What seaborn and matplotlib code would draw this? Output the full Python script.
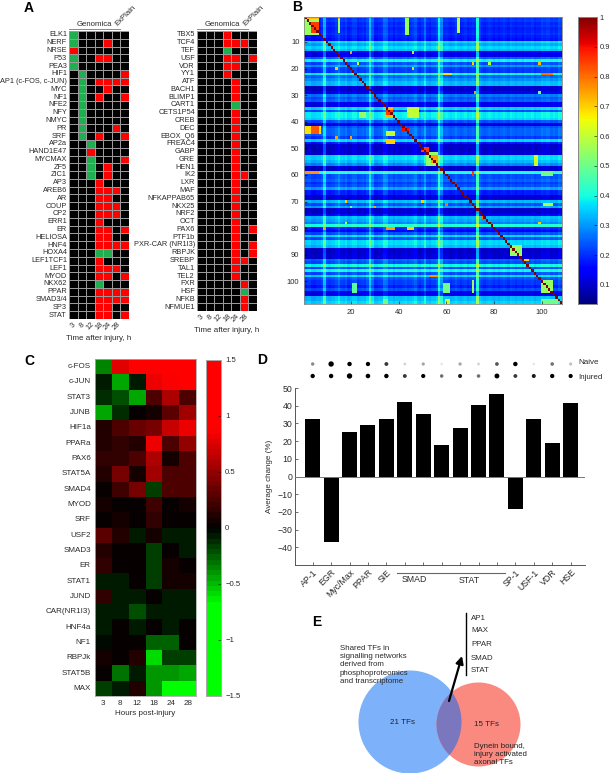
import matplotlib
matplotlib.use('Agg')
import matplotlib.pyplot as plt
from matplotlib.colors import LinearSegmentedColormap, ListedColormap
from matplotlib.patches import Circle, FancyArrowPatch
from matplotlib.transforms import blended_transform_factory
import seaborn as sns
import numpy as np
import pandas as pd

# panel A: '.' no call, 'r' induced, 'g' repressed; columns are the time points + ExPlain
time_labels = ['3', '8', '12', '18', '24', '28', '']
left_tfs = ['ELK1', 'NERF', 'NRSE', 'P53', 'PEA3', 'HIF1', 'AP1 (c-FOS, c-JUN)', 'MYC', 'NF1', 'NFE2',
            'NFY', 'NMYC', 'PR', 'SRF', 'AP2a', 'HAND1E47', 'MYCMAX', 'ZF5', 'ZIC1', 'AP3', 'AREB6', 'AR',
            'COUP', 'CP2', 'ERR1', 'ER', 'HELIOSA', 'HNF4', 'HOXA4', 'LEF1TCF1', 'LEF1', 'MYOD', 'NKX62',
            'PPAR', 'SMAD3/4', 'SP3', 'STAT']
left_calls = ['g......', 'g...r..', 'r......', 'g..rr..', 'g......', '.g....r', '.g.rrrr', '.g..r..',
              '.g.r..r', '.g.....', '.g.....', '.g.....', '.g...r.', '.g.r..r', '..g....', '..r....',
              '..g...r', '..g.r..', '..g.r..', '...r...', '...rrr.', '...rr..', '...rrr.', '...rrr.',
              '...r...', '...rr.r', '...rr..', '...rrrr', '...gg..', '...r...', '...rrr.', '...rr.r',
              '...g...', '...rrrr', '...rrrr', '...rr..', '...rr.r']
right_tfs = ['TBX5', 'TCF4', 'TEF', 'USF', 'VDR', 'YY1', 'ATF', 'BACH1', 'BLIMP1', 'CART1', 'CETS1P54',
             'CREB', 'DEC', 'EBOX_Q6', 'FREAC4', 'GABP', 'GRE', 'HEN1', 'IK2', 'LXR', 'MAF', 'NFKAPPAB65',
             'NKX25', 'NRF2', 'OCT', 'PAX6', 'PTF1b', 'PXR-CAR (NR1I3)', 'RBPJK', 'SREBP', 'TAL1', 'TEL2',
             'FXR', 'HSF', 'NFKB', 'NFMUE1']
right_calls = ['...r...', '...rrr.', '...g...', '...rr.r', '...rr..', '...r...', '....r..', '....r..',
               '....r..', '....g..', '....r..', '....r..', '....r..', '....r..', '....r..', '....r..',
               '....r..', '....r..', '....rr.', '....r..', '....r..', '....r..', '....r..', '....r..',
               '....r..', '....r.r', '....r..', '....r.r', '....r.r', '....rr.', '....r..', '....r..',
               '.....r.', '.....g.', '.....r.', '.....r.']

# panel B: brightness of each row, extra brightness of each column, all estimated by eye
row_levels = [.17, .18, .16, .17, .15, .16, .17, .15, .14, .33, .28, .33, .30, .10, .10, .22, .36, .20,
              .27, .18, .18, .36, .22, .26, .30, .30, .07, .07, .10, .24, .20, .22, .10, .10, .33, .20,
              .35, .35, .33, .20, .09, .20, .22, .22, .22, .18, .33, .15, .07, .07, .07, .08, .33, .33,
              .30, .25, .07, .07, .38, .20, .20, .22, .18, .20, .28, .15, .15, .08, .08, .30, .20, .28,
              .07, .07, .12, .30, .28, .25, .38, .15, .12, .20, .33, .20, .33, .33, .30, .07, .07, .08,
              .08, .22, .20, .36, .20, .36, .20, .33, .20, .18, .18, .15, .20, .10, .10, .30, .30, .33]
col_levels = [.02, .03, .03, .01, .01, .02, .02, .04, .16, .03, .02, .03, .03, .05, .08, .04, .03, .05,
              .02, .03, .05, .05, .02, .03, .04, .03, .06, .17, .08, .02, .02, .03, .04, .09, .08, .03,
              .04, .02, .04, .03, .03, .04, .05, .03, .04, .05, .07, .03, .02, .04, .10, .03, .02, .04,
              .04, .06, .22, .12, .03, .04, .03, .02, .03, .05, .03, .02, .03, .04, .02, .03, .04, .03,
              .24, .05, .03, .02, .03, .04, .03, .02, .03, .02, .03, .04, .03, .02, .04, .03, .02, .03,
              .03, .02, .04, .03, .03, .04, .02, .03, .03, .05, .04, .05, .05, .03, .04, .03, .06, .05]
# first row, last row, first col, last col, value (1-based cells)
hot_blocks = [(1, 7, 1, 6, .55), (1, 1, 1, 6, .72), (3, 6, 4, 6, .85), (1, 7, 43, 44, .55), (1, 6, 15, 15, .55),
              (1, 1, 15, 15, .72), (1, 6, 65, 65, .6), (42, 44, 1, 7, .68), (42, 44, 4, 6, .82), (59, 59, 1, 6, .76),
              (35, 38, 44, 48, .6), (35, 38, 35, 37, .72), (36, 37, 35, 37, .85), (44, 45, 35, 38, .6), (47, 48, 35, 38, .7),
              (22, 22, 59, 62, .68), (22, 22, 100, 104, .8), (37, 38, 24, 26, .55), (52, 56, 52, 56, .55),
              (53, 55, 54, 56, .75), (53, 56, 97, 98, .62), (59, 60, 100, 104, .5), (71, 71, 101, 104, .58),
              (80, 80, 35, 38, .75), (80, 80, 44, 46, .7), (87, 90, 87, 91, .55), (98, 98, 53, 56, .76),
              (100, 104, 100, 104, .55), (101, 104, 59, 61, .5), (100, 104, 71, 71, .55), (101, 104, 21, 22, .48),
              (107, 108, 60, 61, .6), (107, 108, 34, 35, .5), (107, 108, 100, 106, .5), (14, 14, 20, 20, .75),
              (14, 14, 46, 46, .7), (20, 20, 14, 14, .7), (20, 20, 46, 46, .7), (18, 18, 23, 23, .6),
              (18, 18, 71, 71, .7), (18, 18, 78, 78, .6), (18, 18, 99, 99, .72), (46, 46, 14, 14, .75),
              (46, 46, 20, 20, .75), (29, 29, 72, 72, .75), (29, 29, 99, 99, .5), (70, 70, 18, 18, .7),
              (72, 72, 30, 30, .75), (72, 72, 20, 20, .5), (70, 70, 50, 50, .7), (71, 71, 60, 60, .8),
              (59, 60, 71, 71, .85), (78, 78, 18, 18, .6), (80, 80, 9, 9, .75), (78, 78, 99, 99, .7),
              (76, 76, 75, 76, .8), (92, 92, 92, 94, .7), (43, 43, 42, 44, .9), (50, 51, 50, 52, .85)]

# panel C
hours = ['3', '8', '12', '18', '24', '28']
c_tfs = ['c-FOS', 'c-JUN', 'STAT3', 'JUNB', 'HIF1a', 'PPARa', 'PAX6', 'STAT5A', 'SMAD4', 'MYOD', 'SRF',
         'USF2', 'SMAD3', 'ER', 'STAT1', 'JUND', 'CAR(NR1I3)', 'HNF4a', 'NF1', 'RBPJk', 'STAT5B', 'MAX']
c_values = [[-.35, .75, 1.5, 1.5, 1.5, 1.5],
            [-.08, -.45, -.05, .8, .85, .9],
            [-.12, -.22, -.46, .28, .6, .28],
            [-.46, -.1, 0, .08, .3, .55],
            [.13, .28, .36, .42, .7, .8],
            [.13, .18, .14, .8, .24, .5],
            [.18, .18, .28, .6, .07, .28],
            [.13, .42, .09, .55, .28, .28],
            [0, .2, .42, -.17, .24, .28],
            [.07, 0, 0, .22, 0, .07],
            [0, .07, 0, .18, 0, 0],
            [.32, .14, -.05, .09, -.09, -.05],
            [.14, 0, 0, -.18, 0, -.09],
            [.18, 0, 0, -.18, .07, 0],
            [-.05, -.09, 0, -.16, .07, .05],
            [.18, -.07, -.07, 0, -.05, -.05],
            [-.05, -.05, -.22, -.09, -.09, -.05],
            [-.07, 0, -.09, 0, -.09, 0],
            [-.03, 0, 0, -.24, -.27, 0],
            [.06, 0, .14, -.6, -.18, -.18],
            [0, -.3, -.09, -.42, -.4, -.46],
            [-.16, -.09, .14, -.42, -1.2, -1.2]]

# panel D
d_labels = ['AP-1', 'EGR', 'Myc/Max', 'PPAR', 'SIE', '', '', '', '', '', '', 'SP-1', 'USF-1', 'VDR', 'HSE']
d_change = [32.5, -37, 25, 29, 32.5, 42, 35.5, 18, 27.5, 40.5, 46.5, -18.5, 32.5, 19, 41.5]
naive_level = [.25, 1, .6, .55, .4, .1, .2, .05, .2, .1, .35, .6, .05, .3, .15]
injured_level = [.55, .6, 1, .65, .6, .4, .5, .3, .45, .3, .8, .4, .45, .55, .5]
smad_bars = [5, 6]
stat_bars = [7, 10]

# panel E
shared_tfs = ['AP1', 'MAX', 'PPAR', 'SMAD', 'STAT']

W, H = 611, 773
plt.rcParams['font.family'] = ['Liberation Sans', 'DejaVu Sans']
plt.rcParams['axes.unicode_minus'] = True
TXT = '#2a2a2a'
GRAY = '#888888'

fig = plt.figure(figsize=(W / 100, H / 100), dpi=100)


def px_axes(x0, y0, x1, y1):
    return fig.add_axes([x0 / W, 1 - y1 / H, (x1 - x0) / W, (y1 - y0) / H])


def calls_to_frame(calls, tfs):
    codes = {'.': 0, 'r': 1, 'g': -1}
    return pd.DataFrame([[codes[c] for c in row] for row in calls], index=tfs)


call_cmap = ListedColormap(['#1fae50', 'black', '#ff0000'])
for calls, tfs, box in [(left_calls, left_tfs, (69, 31, 129, 319)),
                        (right_calls, right_tfs, (197, 31, 257, 311))]:
    ax = px_axes(*box)
    sns.heatmap(calls_to_frame(calls, tfs), ax=ax, cmap=call_cmap, vmin=-1.5, vmax=1.5, cbar=False,
                linewidths=0.6, linecolor='#9a9a9a', xticklabels=time_labels, yticklabels=tfs)
    ax.tick_params(length=0, pad=1.5, labelsize=5.3, labelcolor=TXT)
    plt.setp(ax.get_yticklabels(), rotation=0)
    plt.setp(ax.get_xticklabels(), rotation=45, ha='center')
    ax.set_xlabel('Time after injury, h', fontsize=5.8, color=TXT, labelpad=2)
    ax.text(3, 1.012, 'Genomica', transform=ax.get_xaxis_transform(), ha='center', va='bottom', fontsize=5.6, color=TXT)
    ax.plot([0.05, 6], [1.007, 1.007], transform=ax.get_xaxis_transform(), color=GRAY, lw=0.7, clip_on=False)
    ax.text(6.55, 1.012, 'ExPlain', transform=ax.get_xaxis_transform(), ha='center', va='bottom', rotation=45,
            fontsize=5.6, color=TXT)

# panel B
ax_b = px_axes(304.3, 16.7, 562.3, 304)
cax_b = px_axes(577.7, 17, 597, 304)
corr = np.add.outer(np.array(row_levels), np.array(col_levels))
for r0, r1, c0, c1, val in hot_blocks:
    corr[r0 - 1:r1, c0 - 1:c1] = val
np.fill_diagonal(corr, 1.0)
sns.heatmap(corr, ax=ax_b, cmap='jet', vmin=0.036, vmax=1, cbar_ax=cax_b, xticklabels=False, yticklabels=False,
            rasterized=True)
ax_b.set_xticks(np.arange(20, 101, 20) - 0.5)
ax_b.set_xticklabels(range(20, 101, 20))
ax_b.set_yticks(np.arange(10, 101, 10) - 0.5)
ax_b.set_yticklabels(range(10, 101, 10), rotation=0)
ax_b.tick_params(direction='in', length=2, width=0.4, labelsize=5.5, labelcolor=TXT, pad=3.5)
for sp in ax_b.spines.values():
    sp.set_visible(True)
    sp.set_color(GRAY)
    sp.set_linewidth(0.6)
cax_b.set_yticks(np.arange(0.1, 1.01, 0.1))
cax_b.set_yticklabels(['0.1', '0.2', '0.3', '0.4', '0.5', '0.6', '0.7', '0.8', '0.9', '1'])
cax_b.tick_params(direction='in', length=2, width=0.4, labelsize=5.5, labelcolor=TXT, pad=2)
for sp in cax_b.spines.values():
    sp.set_visible(True)
    sp.set_color(GRAY)
    sp.set_linewidth(0.6)

# panel C
ax_c = px_axes(95, 359, 196, 696)
cax_c = px_axes(206, 360, 221, 696)
rg_cmap = LinearSegmentedColormap.from_list(
    'green_black_red',
    [(0, '#00ff00'), (0.27, '#00ff00'), (0.5, '#000000'), (0.67, '#960000'), (0.8, '#ff0000'), (1, '#ff0000')], N=64)
sns.heatmap(pd.DataFrame(c_values, index=c_tfs, columns=hours), ax=ax_c, cmap=rg_cmap, vmin=-1.5, vmax=1.5,
            cbar_ax=cax_c, rasterized=True)
ax_c.tick_params(length=0, labelsize=5.8, labelcolor=TXT, pad=3)
plt.setp(ax_c.get_yticklabels(), rotation=0)
plt.setp(ax_c.get_xticklabels(), rotation=0)
ax_c.set_xlabel('Hours post-injury', fontsize=5.8, color=TXT, labelpad=2)
for sp in ax_c.spines.values():
    sp.set_visible(True)
    sp.set_color('#aaaaaa')
    sp.set_linewidth(0.6)
cax_c.set_yticks([-1.5, -1, -0.5, 0, 0.5, 1, 1.5])
cax_c.set_yticklabels(['\u22121.5', '\u22121', '\u22120.5', '0', '0.5', '1', '1.5'])
cax_c.tick_params(direction='in', length=2, width=0.4, labelsize=5.6, labelcolor=TXT, pad=3)
for sp in cax_c.spines.values():
    sp.set_visible(True)
    sp.set_color('#aaaaaa')
    sp.set_linewidth(0.6)

# panel D
ax_d = px_axes(295, 388, 585, 565)
positions = np.arange(len(d_change))
sns.barplot(x=positions, y=d_change, ax=ax_d, color='black', width=0.81, saturation=1)
ax_d.set_xlim(-0.96, 14.78)
ax_d.set_ylim(-50, 50)
ax_d.set_yticks(range(-40, 51, 10))
ax_d.set_xticks(positions)
ax_d.set_xticklabels(d_labels, rotation=45, ha='right', rotation_mode='anchor')
ax_d.tick_params(direction='in', length=2.2, width=0.6, color='#555555', labelsize=6.3, labelcolor=TXT, pad=2)
ax_d.set_ylabel('Average change (%)', fontsize=5.8, color=TXT, labelpad=3)
ax_d.axhline(0, color='#777777', lw=0.7, zorder=3)
sns.despine(ax=ax_d)
for name in ['left', 'bottom']:
    ax_d.spines[name].set_color('#555555')
    ax_d.spines[name].set_linewidth(0.7)
below = blended_transform_factory(ax_d.transData, ax_d.transAxes)
for name, (first, last), text_y in [('SMAD', smad_bars, -0.08), ('STAT', stat_bars, -0.09)]:
    ax_d.plot([first - 0.45, last + 0.45], [-0.045, -0.045], transform=below, color='#666666', lw=0.8, clip_on=False)
    ax_d.text((first + last) / 2, text_y, name, transform=below, ha='center', va='center', fontsize=6.3, color=TXT)

ax_dots = px_axes(295, 358, 585, 382)
dots = pd.DataFrame({'x': np.r_[positions, positions],
                     'group': ['Naive'] * len(positions) + ['Injured'] * len(positions),
                     'level': naive_level + injured_level})
sns.scatterplot(data=dots, x='x', y='group', hue='level', size='level', palette='Greys', hue_norm=(-0.05, 0.5),
                sizes=(3, 15), size_norm=(0, 1), linewidth=0, legend=False, ax=ax_dots)
ax_dots.set_xlim(-0.96, 14.78)
ax_dots.set_ylim(1.5, -0.5)
ax_dots.axis('off')
for name, ypx in [('Naive', 362), ('Injured', 377)]:
    fig.text(578 / W, 1 - ypx / H, name, fontsize=5.8, color=TXT, va='center')

# overlay in pixel coordinates: panel letters and panel E
ov = fig.add_axes([0, 0, 1, 1], facecolor='none')
ov.set_xlim(0, W)
ov.set_ylim(H, 0)
ov.axis('off')
for letter, x, y in [('A', 29, 8), ('B', 297, 7), ('C', 29, 361), ('D', 262, 360), ('E', 317, 622)]:
    ov.text(x, y, letter, fontsize=10, fontweight='bold', ha='center', va='center', color='black')

ov.add_patch(Circle((410, 722), 51.5, fc='#7db1fa', ec='none'))
ov.add_patch(Circle((478.5, 724.5), 42, fc='#fa8a80', ec='none'))
overlap = Circle((410, 722), 51.5, fc='#7b77be', ec='none')
ov.add_patch(overlap)
overlap.set_clip_path(Circle((478.5, 724.5), 42, transform=ov.transData))
ov.add_patch(FancyArrowPatch((449, 701), (462, 656), arrowstyle='-|>', mutation_scale=11, lw=1.6, color='black',
                             shrinkA=0, shrinkB=0))
ov.plot([466, 466], [613, 675], color='black', lw=1)
for tf, y in zip(shared_tfs, [618, 631, 644, 658, 670]):
    ov.text(471, y, tf, fontsize=5.7, va='center', color=TXT)
ov.text(340, 645, 'Shared TFs in\nsignalling networks\nderived from\nphosphoproteomics\nand transcriptome', fontsize=5.7,
        va='top', color=TXT, linespacing=1.25)
ov.text(402, 723, '21 TFs', fontsize=5.8, ha='center', va='center', color='#222222')
ov.text(487, 725, '15 TFs', fontsize=5.8, ha='center', va='center', color='#222222')
ov.text(474, 743, 'Dynein bound,\ninjury activated\naxonal TFs', fontsize=5.7, va='top', color='#222222', linespacing=1.25)

fig.savefig('out.png', dpi=100)
